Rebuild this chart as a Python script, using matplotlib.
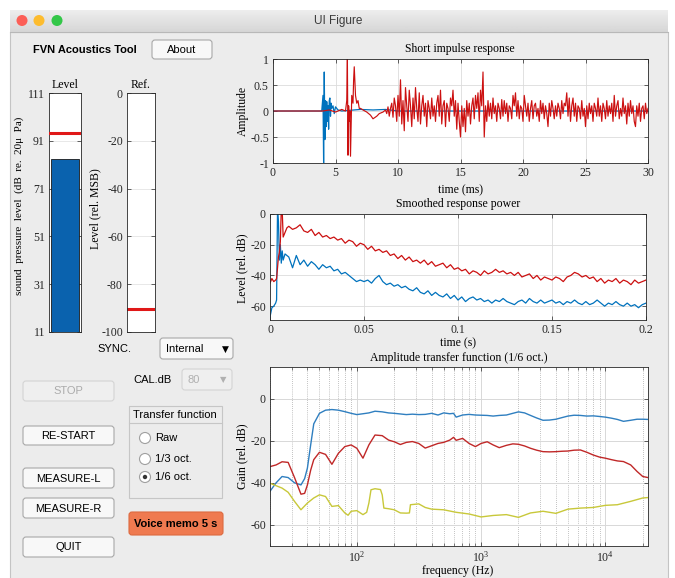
import numpy as np
import matplotlib
matplotlib.use("Agg")
import matplotlib.pyplot as plt
from matplotlib.patches import Rectangle, FancyBboxPatch, Circle

plt.rcParams['axes.unicode_minus'] = False
plt.rcParams['mathtext.fontset'] = 'custom'
plt.rcParams['mathtext.rm'] = 'Liberation Serif'
plt.rcParams['mathtext.it'] = 'Liberation Serif:italic'

W, H = 675, 578
SERIF = ["Liberation Serif", "DejaVu Serif"]
SANS = ["Liberation Sans", "DejaVu Sans"]

# ---------------- data ----------------
level_spl = 83.4
level_peak = 94.3
ref_level = -90.4
level_ticks = [11, 31, 51, 71, 91, 111]
ref_ticks = [-100, -80, -60, -40, -20, 0]

# short impulse response (ms, amplitude)
imp_blue_t = [0, 3.9, 4.0, 4.05, 4.1, 4.15, 4.2, 4.25, 4.3, 4.35, 4.4, 4.45, 4.5, 4.55,
              4.6, 4.65, 4.7, 4.8, 4.9, 5.0, 5.2, 5.5, 6.0, 7.0, 8.0, 9.0, 10.0, 30.0]
imp_blue_y = [0, 0, 0.3, -1.0, 0.75, -0.55, 0.2, -0.3, 0.18, -0.2, 0.1, -0.35, 0.2, 0.25,
              -0.1, 0.15, 0.05, 0.1, -0.05, 0.08, 0.02, 0.0, 0.01, 0.03, 0.02, 0.03, 0.0, 0.0]
imp_red_t_head = [0, 4.0, 4.5, 5.0, 5.5, 5.8, 5.9, 5.95, 6.0, 6.05, 6.1, 6.15, 6.2, 6.3,
                  6.4, 6.45, 6.5, 6.6, 6.7, 6.8, 6.9, 7.0, 7.2, 7.5, 7.8, 8.0, 8.3, 8.5, 8.8]
imp_red_y_head = [0, 0.0, 0.02, -0.02, 0.03, 0.0, 0.2, 1.0, -0.85, 0.1, -0.2, 0.0, -0.87, 0.3,
                  0.15, 0.6, 0.85, 0.3, 0.15, 0.2, 0.05, 0.05, 0.02, -0.02, -0.08, -0.15, -0.1, -0.05, -0.02]
imp_red_y_tail = [  # 9.0 .. 30.0 ms, 0.1 ms steps
    0.02, -0.05, 0.08, -0.1, 0.05, 0.15, -0.12, 0.25, 0.1, -0.2,
    0.3, -0.1, 0.6, -0.25, 0.2, -0.38, 0.45, 0.1, -0.2, 0.4,
    0.1, -0.3, 0.25, -0.15, 0.45, 0.05, -0.2, 0.35, -0.25, 0.1,
    0.3, -0.1, 0.15, -0.3, 0.2, 0.05, -0.15, 0.25, -0.1, 0.1,
    -0.2, 0.15, 0.3, -0.1, 0.4, -0.25, 0.1, 0.2, -0.3, 0.15,
    0.05, -0.2, 0.25, 0.1, 0.4, -0.1, 0.2, -0.35, 0.15, -0.2,
    -0.5, 0.1, -0.3, 0.05, -0.4, 0.2, -0.1, 0.15, -0.25, 0.1,
    0.25, -0.15, 0.3, 0.05, 0.35, -0.2, 0.4, 0.1, 0.75, -0.5,
    0.1, -0.2, 0.2, -0.1, 0.15, -0.15, 0.25, -0.05, 0.1, -0.2,
    0.15, 0.05, -0.15, 0.22, -0.1, 0.2, -0.05, 0.15, -0.2, 0.1,
    0.05, -0.15, 0.3, 0.1, 0.35, -0.1, 0.2, -0.15, 0.1, 0.05,
    -0.2, 0.3, 0.1, -0.1, 0.15, -0.2, 0.05, 0.2, -0.15, 0.1,
    0.15, -0.1, 0.05, -0.2, 0.2, -0.05, 0.15, -0.15, 0.1, -0.05,
    -0.3, 0.15, -0.1, 0.2, 0.05, -0.15, 0.1, -0.1, 0.15, 0.05,
    -0.15, 0.2, -0.05, 0.15, 0.1, 0.35, -0.1, 0.25, -0.2, 0.1,
    0.25, -0.1, 0.15, -0.2, 0.1, 0.05, -0.15, 0.2, -0.1, 0.05,
    -0.3, 0.1, -0.15, 0.15, -0.05, 0.1, -0.2, 0.15, 0.05, -0.1,
    0.25, -0.1, 0.1, -0.2, 0.15, 0.05, -0.15, 0.2, -0.1, 0.1,
    -0.05, 0.15, -0.2, 0.3, -0.1, 0.1, 0.2, -0.15, 0.05, -0.1,
    0.25, -0.05, 0.1, -0.25, 0.15, -0.1, 0.2, -0.05, 0.1, -0.2,
    -0.3, 0.1, -0.1, 0.15, -0.2, 0.05, 0.1, -0.15, 0.15, -0.05,
    0.05]

# smoothed response power (s, dB)
pow_t_head = [0, 0.001, 0.002, 0.003, 0.0035, 0.004, 0.0045, 0.005, 0.0055, 0.006, 0.0065, 0.007, 0.008, 0.009]
pow_red_head = [-45, -42, -44, -43, -42, -35, -28, -25, -18, 3, 2, -15, -12, -9]
pow_blue_head = [-67, -61, -60, -58, -56, 3, -5, -30, -20, -32, -24, -30, -26, -27]
pow_red_tail = [  # 0.010 .. 0.200 s, 2 ms steps
    -8, -10, -9, -7, -11, -12, -10, -14, -12, -15,
    -14, -16, -15, -17, -16, -19, -17, -18, -21, -19,
    -20, -23, -21, -24, -23, -25, -24, -27, -26, -29,
    -27, -30, -28, -31, -30, -32, -30, -33, -31, -34,
    -33, -32, -35, -33, -36, -35, -37, -36, -39, -37,
    -38, -40, -37, -39, -38, -36, -38, -37, -39, -38,
    -40, -38, -41, -40, -39, -42, -40, -43, -41, -42,
    -43, -41, -42, -44, -41, -40, -38, -39, -41, -40,
    -42, -41, -44, -42, -45, -43, -44, -42, -45, -43,
    -44, -46, -43, -45, -44, -43]
pow_blue_tail = [
    -28, -35, -27, -33, -30, -34, -31, -33, -36, -33,
    -35, -34, -37, -36, -39, -38, -40, -42, -44, -43,
    -44, -43, -45, -42, -40, -44, -46, -45, -47, -46,
    -48, -47, -49, -50, -48, -51, -52, -50, -53, -51,
    -53, -54, -52, -55, -53, -56, -54, -57, -55, -54,
    -56, -55, -57, -56, -58, -56, -57, -55, -57, -58,
    -59, -57, -56, -58, -55, -57, -58, -56, -58, -57,
    -56, -58, -57, -59, -57, -58, -56, -58, -59, -57,
    -59, -58, -56, -58, -60, -58, -59, -57, -59, -60,
    -58, -60, -59, -61, -59, -58]

# amplitude transfer function (Hz, dB)
tf_f = [20, 22.4, 25, 28, 31.5, 35.5, 38, 40, 42.5, 45, 50, 56, 63, 71, 80, 90, 100, 112, 125, 140,
        160, 180, 200, 224, 250, 280, 315, 355, 400, 450, 500, 560, 600, 630, 710, 800, 900, 1000, 1120, 1250,
        1400, 1600, 1800, 2000, 2240, 2500, 2800, 3150, 3550, 4000, 4500, 5000, 5600, 6300, 7100, 8000, 9000,
        10000, 11200, 12500, 14000, 16000, 18000, 20000, 22050]
tf_blue = [-44, -40, -37, -37.5, -40, -41, -38, -33, -22, -12, -7, -5.5, -5.2, -5.5, -6.2, -7, -7.6, -7.2, -6.8, -6,
           -6.3, -6.8, -7, -7.3, -7.6, -7.4, -7.6, -7.5, -7, -7.8, -6.8, -7.2, -7.0, -8.8, -7.8, -7.5, -7.8, -7.9, -8.0, -8.3,
           -8.0, -7.8, -7.0, -6.3, -6.8, -8.0, -9.2, -10.3, -10.2, -9.8, -9.0, -8.3, -7.9, -8.0, -8.3, -8.2, -8.5,
           -8.8, -9.3, -9.9, -10.8, -10.3, -9.8, -9.8, -9.9]
tf_red = [-32.3, -31.5, -30, -30.3, -37.5, -45.4, -45, -41, -34, -29, -25.5, -26.5, -31.2, -26, -22.8, -22, -23.6, -28.3, -22, -17.3,
          -17.6, -19.7, -20.5, -21.8, -20.8, -20.4, -21.3, -23.5, -22.4, -21.3, -20.8, -19.7, -18.4, -19.8, -18.9, -21.3, -22.8, -21.3, -20.5, -22,
          -23.3, -22.2, -21.5, -21.7, -22.5, -23.6, -24.5, -25.2, -25.3, -25.2, -25, -24.9, -24.5, -24.4, -25.5, -26.8, -27.8,
          -28.3, -29, -29.6, -29.9, -31.5, -34.6, -37, -37.5]
tf_f_yellow = [20, 25, 28, 31.5, 35.5, 40, 45, 50, 56, 63, 71, 80, 85, 90, 100, 112, 120, 125, 130, 140,
               155, 160, 165, 180, 200, 224, 250, 265, 270, 315, 355, 400, 500, 630, 800, 1000, 1250, 1600, 2000, 2500,
               3150, 4000, 5000, 6300, 8000, 10000, 12500, 16000, 20000, 22050]
tf_yellow = [-40.2, -42.5, -44.5, -48.8, -52.8, -49.6, -47.2, -45.7, -46.5, -51.2, -50.8, -54.3, -55.4, -53.5, -53.2, -55.1, -54, -49.6, -43.3, -42.8,
             -43.2, -45.7, -52, -52.3, -52.8, -54.3, -54.4, -54.3, -50.4, -50, -51.7, -52.5, -52.8, -54, -54.8, -56.2, -55.5, -55.1, -56.4, -54.3,
             -53.5, -54.5, -52.5, -52, -51.7, -50.7, -50.4, -48.8, -47.2, -47]

BLUE = '#0072BD'
RED = '#CC1010'
TF_BLUE = '#2f7fc0'
TF_RED = '#c02828'
TF_YEL = '#c8c83a'
AXC = '#262626'
TICK_FS = 8.5
LAB_FS = 8.5

# ---------------- figure ----------------
fig = plt.figure(figsize=(W / 100, H / 100), dpi=100)
fig.patch.set_facecolor('white')

bg = fig.add_axes([0, 0, 1, 1], zorder=0)
bg.set_xlim(0, W)
bg.set_ylim(H, 0)
bg.axis('off')

# window
bg.add_patch(Rectangle((10, 32), 658, 560, fc='#ececec', ec='#c4c4c4', lw=0.8))
grad = np.linspace(0.93, 0.84, 30).reshape(-1, 1)
bg.imshow(grad, extent=(10, 668, 32, 10), cmap='gray', vmin=0, vmax=1, aspect='auto', zorder=1)
bg.plot([10, 668], [32, 32], color='#b8b8b8', lw=0.8, zorder=2)
for cx, c in [(22, '#fc5f57'), (39, '#fdbc2e'), (57, '#33c748')]:
    bg.add_patch(Circle((cx, 20.5), 5.5, fc=c, ec='none', zorder=3))
bg.text(338, 21, 'UI Figure', ha='center', va='center', fontsize=8.5, family=SANS, color='#3a3a3a', zorder=3)

bg.text(33, 50, 'FVN Acoustics Tool', ha='left', va='center', fontsize=8, weight='bold', family=SANS)


def button(x0, y0, x1, y1, label, face='#f8f8f8', edge='#a8a8a8', color='black', bold=False):
    bg.add_patch(FancyBboxPatch((x0, y0), x1 - x0, y1 - y0, boxstyle="round,pad=0,rounding_size=3",
                                fc=face, ec=edge, lw=0.8, zorder=2))
    bg.text((x0 + x1) / 2, (y0 + y1) / 2 + 0.5, label, ha='center', va='center', fontsize=8,
            family=SANS, color=color, weight='bold' if bold else 'normal', zorder=3)


button(152, 40, 212, 59, 'About')
button(23, 381, 114, 401, 'STOP', face='#efefef', edge='#d4d4d4', color='#ababab')
button(23, 426, 114, 445, 'RE-START')
button(23, 468, 114, 488, 'MEASURE-L')
button(23, 498, 114, 518, 'MEASURE-R')
button(23, 537, 114, 557, 'QUIT')
button(129, 512, 223, 535, 'Voice memo 5 s', face='#ef7a50', edge='#dd6a40', bold=True)

# labels and dropdowns
bg.text(114, 349, 'SYNC.', ha='center', va='center', fontsize=8, family=SANS)
bg.add_patch(FancyBboxPatch((160, 338), 73, 21, boxstyle="round,pad=0,rounding_size=3",
                            fc='#f8f8f8', ec='#a8a8a8', lw=0.8, zorder=2))
bg.text(166, 349, 'Internal', ha='left', va='center', fontsize=8, family=SANS, zorder=3)
bg.text(225, 349, '\u25BC', ha='center', va='center', fontsize=6.5, family=['DejaVu Sans'], zorder=3)

bg.text(153, 380, 'CAL.dB', ha='center', va='center', fontsize=8, family=SANS)
bg.add_patch(FancyBboxPatch((182, 369), 50, 21, boxstyle="round,pad=0,rounding_size=3",
                            fc='#efefef', ec='#d4d4d4', lw=0.8, zorder=2))
bg.text(188, 380, '80', ha='left', va='center', fontsize=8, family=SANS, color='#b0b0b0', zorder=3)
bg.text(223, 380, '\u25BC', ha='center', va='center', fontsize=6, family=['DejaVu Sans'], color='#b0b0b0', zorder=3)

# transfer function panel
bg.add_patch(Rectangle((129, 406), 93, 92, fc='#ececec', ec='#c6c6c6', lw=0.8, zorder=2))
bg.plot([129, 222], [423, 423], color='#c6c6c6', lw=0.8, zorder=3)
bg.text(175, 414.5, 'Transfer function', ha='center', va='center', fontsize=8, family=SANS, zorder=3)
for yy, lab, sel in [(438, 'Raw', False), (459, '1/3 oct.', False), (477, '1/6 oct.', True)]:
    bg.add_patch(Circle((145, yy), 5.5, fc='white', ec='#a0a0a0', lw=0.8, zorder=3))
    if sel:
        bg.add_patch(Circle((145, yy), 2.2, fc='#333333', ec='none', zorder=4))
    bg.text(155, yy, lab, ha='left', va='center', fontsize=8, family=SANS, zorder=3)


def px_axes(x0, y0, x1, y1):
    return fig.add_axes([x0 / W, 1 - y1 / H, (x1 - x0) / W, (y1 - y0) / H], zorder=2)


def style(ax):
    ax.set_facecolor('white')
    for s in ax.spines.values():
        s.set_color(AXC)
        s.set_linewidth(0.6)
    ax.tick_params(direction='in', top=True, right=True, labelsize=TICK_FS, colors=AXC,
                   length=3, width=0.5, pad=3)
    for lab in ax.get_xticklabels() + ax.get_yticklabels():
        lab.set_family(SERIF)


# Level meter
axL = px_axes(49, 93, 81, 332)
axL.bar([0], [level_spl - level_ticks[0]], bottom=level_ticks[0], width=0.86, color='#0a62ae',
        edgecolor='#1a1a1a', linewidth=0.6, zorder=2)
axL.axhline(level_peak, color='#e01818', lw=2.2, zorder=3)
axL.set_xlim(-0.5, 0.5)
axL.set_ylim(level_ticks[0], level_ticks[-1])
axL.set_yticks(level_ticks)
axL.set_xticks([])
axL.grid(True, axis='y', color='#e4e4e4', lw=0.6)
axL.set_axisbelow(True)
style(axL)
axL.tick_params(top=False, bottom=False)

axR = px_axes(127, 93, 155, 332)
axR.axhline(ref_level, color='#e01818', lw=2.2)
axR.set_xlim(0, 1)
axR.set_ylim(ref_ticks[0], ref_ticks[-1])
axR.set_yticks(ref_ticks)
axR.set_xticks([])
axR.grid(True, axis='y', color='#e4e4e4', lw=0.6)
axR.set_axisbelow(True)
style(axR)
axR.tick_params(top=False, bottom=False)

bg.text(65, 85, 'Level', ha='center', va='center', fontsize=LAB_FS, family=SERIF)
bg.text(141, 85, 'Ref.', ha='center', va='center', fontsize=LAB_FS, family=SERIF)
bg.text(19, 206, 'sound  pressure  level  (dB  re.  20\u03bc  Pa)', ha='center', va='center', rotation=90,
        fontsize=8, family=SERIF)
bg.text(95, 209, 'Level (rel. MSB)', ha='center', va='center', rotation=90, fontsize=LAB_FS, family=SERIF)

# Impulse response
axI = px_axes(273, 59, 648, 163)
imp_red_t_tail = np.round(np.linspace(9.0, 30.0, len(imp_red_y_tail)), 2)
axI.plot(imp_blue_t, imp_blue_y, color=BLUE, lw=0.9)
axI.plot(list(imp_red_t_head) + list(imp_red_t_tail), imp_red_y_head + imp_red_y_tail, color=RED, lw=0.85)
axI.set_xlim(0, 30)
axI.set_ylim(-1, 1)
axI.set_xticks([0, 5, 10, 15, 20, 25, 30])
axI.set_yticks([-1, -0.5, 0, 0.5, 1])
axI.set_yticklabels(['-1', '-0.5', '0', '0.5', '1'])
axI.grid(True, color='#dcdcdc', lw=0.6)
axI.set_axisbelow(True)
style(axI)
bg.text(460, 49, 'Short impulse response', ha='center', va='center', fontsize=LAB_FS, family=SERIF)
bg.text(460, 190, 'time (ms)', ha='center', va='center', fontsize=LAB_FS, family=SERIF)
bg.text(243, 111, 'Amplitude', ha='center', va='center', rotation=90, fontsize=LAB_FS, family=SERIF)

# Smoothed response power
axP = px_axes(270, 214, 646, 320)
pow_t_tail = np.round(np.linspace(0.010, 0.200, len(pow_red_tail)), 4)
axP.plot(list(pow_t_head) + list(pow_t_tail), pow_blue_head + pow_blue_tail, color=BLUE, lw=0.9)
axP.plot(list(pow_t_head) + list(pow_t_tail), pow_red_head + pow_red_tail, color=RED, lw=0.9)
axP.set_xlim(0, 0.2)
axP.set_ylim(-69, 0)
axP.set_xticks([0, 0.05, 0.1, 0.15, 0.2])
axP.set_xticklabels(['0', '0.05', '0.1', '0.15', '0.2'])
axP.set_yticks([-60, -40, -20, 0])
axP.grid(True, color='#dcdcdc', lw=0.6)
axP.set_axisbelow(True)
style(axP)
bg.text(458, 204, 'Smoothed response power', ha='center', va='center', fontsize=LAB_FS, family=SERIF)
bg.text(458, 343, 'time (s)', ha='center', va='center', fontsize=LAB_FS, family=SERIF)
bg.text(242, 268, 'Level (rel. dB)', ha='center', va='center', rotation=90, fontsize=LAB_FS, family=SERIF)

# Transfer function
axT = px_axes(270, 367, 648, 546)
axT.semilogx(tf_f, tf_blue, color=TF_BLUE, lw=1.0)
axT.semilogx(tf_f, tf_red, color=TF_RED, lw=1.0)
axT.semilogx(tf_f_yellow, tf_yellow, color=TF_YEL, lw=1.0)
axT.set_xlim(20, 22050)
axT.set_ylim(-70, 15)
axT.set_yticks([-60, -40, -20, 0])
axT.set_xticks([100, 1000, 10000])
axT.grid(True, which='major', color='#d8d8d8', lw=0.7)
axT.grid(True, which='minor', axis='x', color='#8a8a8a', lw=0.5, linestyle=(0, (1, 2)))
axT.set_axisbelow(True)
style(axT)
axT.tick_params(which='minor', direction='in', top=True, length=2, width=0.4, colors=AXC)
axT.set_xticklabels(['$10^{2}$', '$10^{3}$', '$10^{4}$'])
bg.text(459, 358, 'Amplitude transfer function (1/6 oct.)', ha='center', va='center', fontsize=LAB_FS, family=SERIF)
bg.text(458, 571, 'frequency (Hz)', ha='center', va='center', fontsize=LAB_FS, family=SERIF)
bg.text(242, 456, 'Gain (rel. dB)', ha='center', va='center', rotation=90, fontsize=LAB_FS, family=SERIF)

fig.savefig('out.png', dpi=100, facecolor='white')
